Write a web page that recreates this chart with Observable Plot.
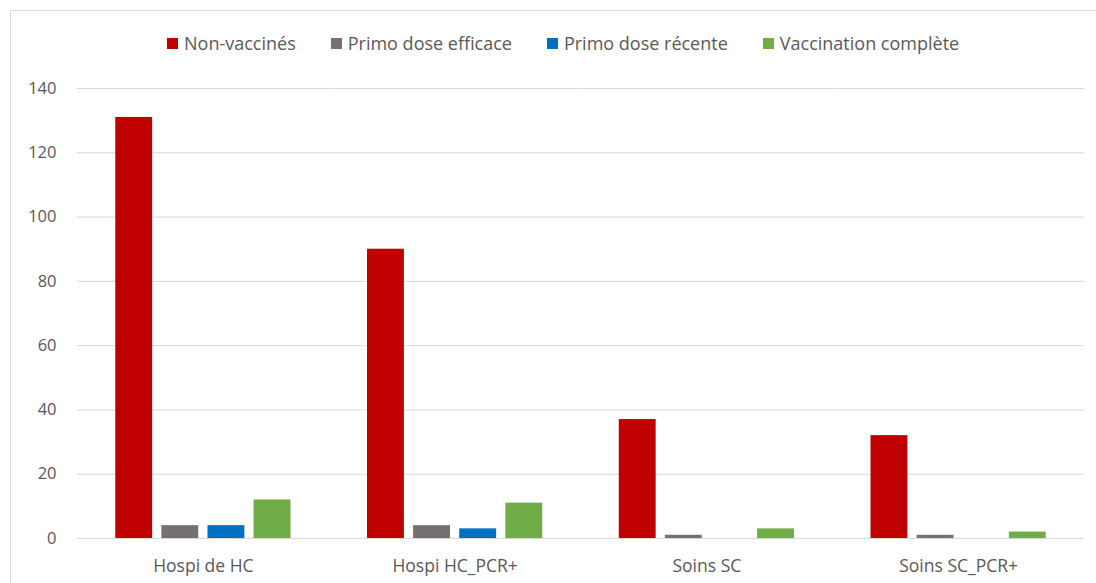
<!DOCTYPE html>
<html>
<head>
<meta charset="utf-8">
<script src="https://cdn.jsdelivr.net/npm/d3@7"></script>
<script src="https://cdn.jsdelivr.net/npm/@observablehq/plot@0.6"></script>
<style>
  html, body { margin: 0; padding: 0; background: #fff; overflow: hidden; }
  body { width: 1096px; height: 583px; position: relative; font-family: "Open Sans", Lato, sans-serif; }
  #frame { position: absolute; left: 10px; top: 10px; width: 1200px; height: 700px; border: 1px solid #d9d9d9; border-right: none; border-bottom: none; }
  #legend { position: absolute; left: 167px; top: 31px; display: flex; gap: 35px; font-size: 18px; color: #595959; white-space: nowrap; }
  #legend .item { display: flex; align-items: center; gap: 6px; }
  #legend .sw { width: 11px; height: 11px; display: inline-block; }
  #chart { position: absolute; left: 0; top: 60px; }
</style>
</head>
<body>
<div id="frame"></div>
<div id="legend"></div>
<div id="chart"></div>
<script>
const categories = ["Hospi de HC", "Hospi HC_PCR+", "Soins SC", "Soins SC_PCR+"];
const series = ["Non-vaccinés", "Primo dose efficace", "Primo dose récente", "Vaccination complète"];
const colors = ["#c00000", "#767171", "#0070c0", "#70ad47"];
const nonVaccines = [131, 90, 37, 32];
const primoEfficace = [4, 4, 1, 1];
const primoRecente = [4, 3, 0, 0];
const vaccinationComplete = [12, 11, 3, 2];
const yTicks = [0, 20, 40, 60, 80, 100, 120, 140];

const seriesValues = [nonVaccines, primoEfficace, primoRecente, vaccinationComplete];
const data = [];
categories.forEach((c, i) => {
  series.forEach((s, j) => data.push({category: c, series: s, value: seriesValues[j][i]}));
});

const legend = document.getElementById("legend");
series.forEach((s, j) => {
  const it = document.createElement("div");
  it.className = "item";
  const sw = document.createElement("span");
  sw.className = "sw";
  sw.style.background = colors[j];
  const t = document.createElement("span");
  t.textContent = s;
  it.appendChild(sw); it.appendChild(t);
  legend.appendChild(it);
});

const chart = Plot.plot({
  width: 1096,
  height: 523,
  marginLeft: 77,
  marginRight: 12,
  marginTop: 28,
  marginBottom: 45,
  style: {fontFamily: "'Open Sans', Lato, sans-serif", fontSize: "16px", color: "#595959", background: "transparent"},
  fx: {domain: categories, padding: 0, round: false, label: null},
  x: {domain: series, paddingInner: 0.2, paddingOuter: 0.83, round: false, axis: null},
  y: {domain: [0, 140], ticks: yTicks, label: null},
  color: {domain: series, range: colors},
  marks: [
    Plot.gridY(yTicks, {stroke: "#d9d9d9", strokeOpacity: 1}),
    Plot.axisY(yTicks, {tickSize: 0, tickPadding: 21, label: null, fill: "#595959", fontSize: 16.5}),
    Plot.axisFx({anchor: "bottom", tickSize: 0, tickPadding: 21, label: null, fill: "#595959", fontSize: 17.5}),
    Plot.barY(data, {fx: "category", x: "series", y: "value", fill: "series"})
  ]
});
document.getElementById("chart").appendChild(chart);
</script>
</body>
</html>
